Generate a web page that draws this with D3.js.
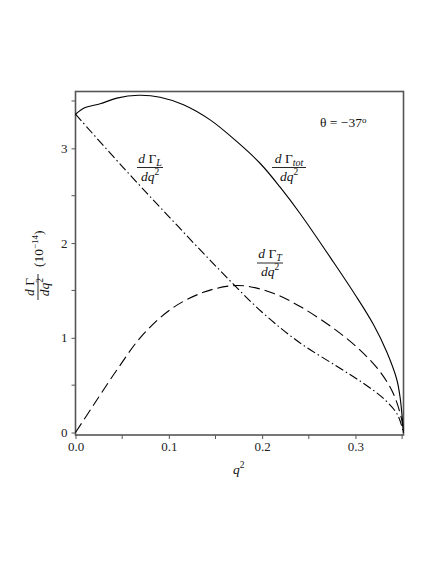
<!DOCTYPE html>
<html>
<head>
<meta charset="UTF-8">
<title>Differential decay rate vs q2</title>
<script src="https://d3js.org/d3.v7.min.js"></script>
<style type="text/css">
  body { margin: 0; background: #fff; }
  svg { display: block; }
  svg text { font-family: "Liberation Serif", "Times New Roman", Times, serif; }
  .axis text { font-size: 13px; fill: #222; }
  .axis path, .axis line { stroke: #555; }
  .curve { fill: none; stroke: #000; stroke-width: 1.1; }
  .frame { fill: none; stroke: #555; stroke-width: 1.6; }
  .lbl { font-size: 13.5px; fill: #111; }
</style>
</head>
<body>
<script type="text/javascript">
// q^2 samples and values (units of 10^-14)
const qTot = [0, 0.0104, 0.0265, 0.0443, 0.0675, 0.0907, 0.1157, 0.1443, 0.173, 0.198, 0.2193, 0.2408, 0.2764, 0.3, 0.3193, 0.3336, 0.3443, 0.348, 0.3514];
const rateTot = [3.36, 3.43, 3.47, 3.53, 3.56, 3.54, 3.46, 3.30, 3.07, 2.84, 2.59, 2.31, 1.80, 1.45, 1.14, 0.85, 0.56, 0.36, 0];

const qT = [0, 0.0193, 0.0443, 0.0711, 0.1033, 0.137, 0.166, 0.184, 0.212, 0.2408, 0.2764, 0.305, 0.3265, 0.3407, 0.3497, 0.3514];
const rateT = [0, 0.29, 0.66, 1.02, 1.31, 1.48, 1.548, 1.545, 1.47, 1.33, 1.10, 0.87, 0.64, 0.41, 0.13, 0];

const qL = [0, 0.05, 0.1, 0.15, 0.2, 0.24, 0.28, 0.31, 0.33, 0.345, 0.3514];
const rateL = [3.36, 2.81, 2.28, 1.76, 1.27, 0.95, 0.70, 0.51, 0.36, 0.19, 0];

const xTicks = [0, 0.1, 0.2, 0.3];
const xMinor = [0.05, 0.15, 0.25, 0.35];
const yTicks = [0, 1, 2, 3];
const yMinor = [0.5, 1.5, 2.5, 3.5];

const W = 436, H = 564;
const plotLeft = 75.5, plotRight = 403.5, plotTop = 91.5, plotBottom = 435;

const svg = d3.select('body').append('svg')
  .attr('width', W)
  .attr('height', H);

const x = d3.scaleLinear().domain([0, 0.3515]).range([plotLeft, plotRight]);
const y = d3.scaleLinear().domain([-0.026, 3.6]).range([plotBottom, plotTop]);

// axes
const xAxis = svg.append('g')
  .attr('class', 'axis')
  .attr('transform', 'translate(0,' + plotBottom + ')')
  .call(d3.axisBottom(x).tickValues(xTicks).tickFormat(d3.format('.1f')).tickSize(4).tickPadding(3));
xAxis.select('.domain').remove();
xAxis.selectAll('.minor').data(xMinor).enter().append('line')
  .attr('x1', d => x(d)).attr('x2', d => x(d))
  .attr('y1', 0).attr('y2', 4)
  .attr('stroke', '#555');

const yAxis = svg.append('g')
  .attr('class', 'axis')
  .attr('transform', 'translate(' + plotLeft + ',0)')
  .call(d3.axisLeft(y).tickValues(yTicks).tickFormat(d3.format('d')).tickSize(4).tickPadding(4));
yAxis.select('.domain').remove();
yAxis.selectAll('.minor').data(yMinor).enter().append('line')
  .attr('y1', d => y(d)).attr('y2', d => y(d))
  .attr('x1', 0).attr('x2', -4)
  .attr('stroke', '#555');

// frame
svg.append('rect')
  .attr('class', 'frame')
  .attr('x', plotLeft).attr('y', plotTop)
  .attr('width', plotRight - plotLeft).attr('height', plotBottom - plotTop);

// curves
const line = d3.line()
  .x(d => x(d[0]))
  .y(d => y(d[1]))
  .curve(d3.curveCatmullRom.alpha(0.5));

svg.append('path')
  .datum(d3.zip(qTot, rateTot))
  .attr('class', 'curve')
  .attr('d', line);

svg.append('path')
  .datum(d3.zip(qT, rateT))
  .attr('class', 'curve')
  .attr('stroke-dasharray', '11,5')
  .attr('d', line);

svg.append('path')
  .datum(d3.zip(qL, rateL))
  .attr('class', 'curve')
  .attr('stroke-dasharray', '9,3,1.5,3')
  .attr('d', line);

// fraction label d Gamma_sub / dq^2
function fracLabel(g, cx, barY, sub, halfW) {
  const num = g.append('text')
    .attr('class', 'lbl')
    .attr('x', cx).attr('y', barY - 5)
    .attr('text-anchor', 'middle');
  num.append('tspan').attr('font-style', 'italic').text('d');
  num.append('tspan').text(' Γ');
  if (sub) {
    num.append('tspan').attr('font-style', 'italic').attr('font-size', '10px').attr('dy', 3).text(sub);
  }
  g.append('line')
    .attr('x1', cx - halfW).attr('x2', cx + halfW)
    .attr('y1', barY).attr('y2', barY)
    .attr('stroke', '#111').attr('stroke-width', 0.9);
  const den = g.append('text')
    .attr('class', 'lbl')
    .attr('x', cx).attr('y', barY + 13)
    .attr('text-anchor', 'middle');
  den.append('tspan').attr('font-style', 'italic').text('dq');
  den.append('tspan').attr('font-size', '9.5px').attr('dy', -6).text('2');
}

fracLabel(svg.append('g'), 150, 167.5, 'L', 13);
fracLabel(svg.append('g'), 289, 167.5, 'tot', 17);
fracLabel(svg.append('g'), 270, 263, 'T', 13);

// theta annotation
const th = svg.append('text')
  .attr('class', 'lbl')
  .attr('x', 320).attr('y', 127)
  .attr('font-size', '13px');
th.append('tspan').text('θ = −37');
th.append('tspan').attr('font-size', '9px').attr('dy', -4).text('o');

// x label
const xl = svg.append('text')
  .attr('class', 'lbl')
  .attr('x', x(0.175)).attr('y', 474)
  .attr('text-anchor', 'middle');
xl.append('tspan').attr('font-style', 'italic').text('q');
xl.append('tspan').attr('font-size', '9.5px').attr('dy', -6).text('2');

// y label, rotated
const yl = svg.append('g')
  .attr('transform', 'translate(38,268) rotate(-90)');
const yn = yl.append('text')
  .attr('class', 'lbl')
  .attr('x', -19).attr('y', -4)
  .attr('text-anchor', 'middle');
yn.append('tspan').attr('font-style', 'italic').text('d');
yn.append('tspan').text(' Γ');
yl.append('line')
  .attr('x1', -32).attr('x2', -6)
  .attr('y1', 0).attr('y2', 0)
  .attr('stroke', '#111').attr('stroke-width', 0.9);
const yd = yl.append('text')
  .attr('class', 'lbl')
  .attr('x', -19).attr('y', 11)
  .attr('text-anchor', 'middle');
yd.append('tspan').attr('font-style', 'italic').text('dq');
yd.append('tspan').attr('font-size', '9.5px').attr('dy', -6).text('2');
const yp = yl.append('text')
  .attr('class', 'lbl')
  .attr('x', 1).attr('y', 5)
  .attr('font-size', '12.5px');
yp.append('tspan').text('(10');
yp.append('tspan').attr('font-size', '9px').attr('dy', -5).text('−14');
yp.append('tspan').attr('dy', 5).text(')');
</script>
</body>
</html>
